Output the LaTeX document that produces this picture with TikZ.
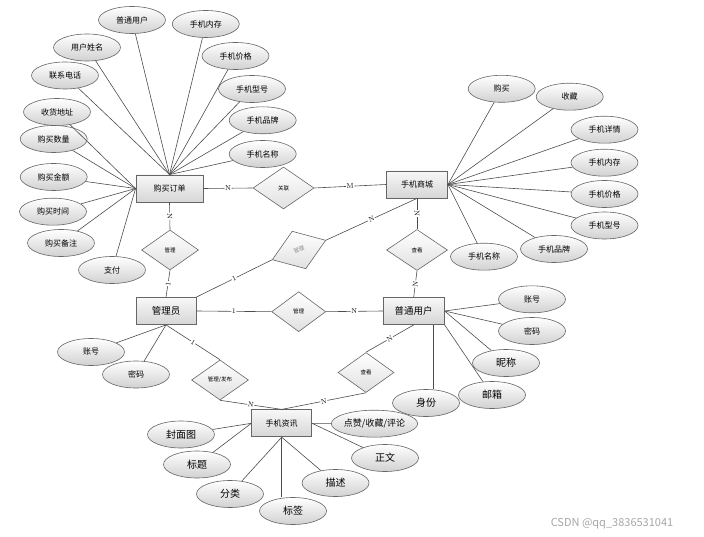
\documentclass[tikz,border=0pt]{standalone}
\usepackage{fontspec}
\usetikzlibrary{shapes.geometric}
\newfontfamily\cjk{Noto Sans CJK SC}

\begin{document}
\begin{tikzpicture}
            [x=1pt, y=-1pt,
             line/.style={draw=black!70, line width=0.6pt},
             attr/.style={ellipse, draw=black!60, line width=0.6pt, top color=white, bottom color=black!18,
                          minimum width=67pt, minimum height=27pt, inner sep=0pt, font=\cjk\fontsize{8}{9}\selectfont},
             bigattr/.style={attr, font=\cjk\fontsize{10}{11}\selectfont},
             entity/.style={rectangle, draw=black!60, line width=0.8pt, top color=black!3, bottom color=black!16,
                            minimum width=61pt, minimum height=27pt, inner sep=0pt, font=\cjk\fontsize{8}{9}\selectfont},
             bigentity/.style={entity, font=\cjk\fontsize{9.5}{11}\selectfont},
             relation/.style={diamond, draw=black!60, line width=0.6pt, top color=white, bottom color=black!12,
                              minimum width=57pt, minimum height=40pt, inner sep=0pt, font=\cjk\fontsize{5.5}{6}\selectfont},
             card/.style={midway, sloped, fill=white, inner sep=0.6pt, font=\fontsize{7}{8}\selectfont}]
            % Page frame
            \useasboundingbox (0,0) rectangle (704,537);

            % Entities
            \node[entity, minimum width=67pt] (order) at (169.5,188.5) {购买订单};
            \node[entity] (mall) at (417,184.5) {手机商城};
            \node[bigentity, minimum width=60pt] (admin) at (166,311) {管理员};
            \node[bigentity] (user) at (413.7,311) {普通用户};
            \node[entity, minimum width=60pt] (news) at (281.7,423.3) {手机资讯};

            % Relations
            \node[relation, minimum width=61pt, minimum height=42pt] (link) at (283.5,188) {关联};
            \node[relation] (orderman) at (170,250) {管理};
            \node[relation, rotate=20, text=black!45] (mallman) at (299,250) {管理};
            \node[relation, minimum width=61pt, minimum height=41pt] (view) at (417,250) {查看};
            \node[relation, minimum width=54pt] (userman) at (298.7,311.7) {管理};
            \node[relation] (pub) at (220,380) {管理/发布};
            \node[relation, minimum width=56pt] (newsview) at (366,372.5) {查看};

            % Attributes of the order
            \node[attr] (o1) at (132,20) {普通用户};
            \node[attr] (o2) at (205.8,24) {手机内存};
            \node[attr] (o3) at (87,47.5) {用户姓名};
            \node[attr] (o4) at (235.5,56) {手机价格};
            \node[attr] (o5) at (65,75.5) {联系电话};
            \node[attr] (o6) at (252,89) {手机型号};
            \node[attr] (o7) at (57,112) {收货地址};
            \node[attr] (o8) at (262.7,120.3) {手机品牌};
            \node[attr] (o9) at (53.7,139) {购买数量};
            \node[attr] (o10) at (262.7,154) {手机名称};
            \node[attr] (o11) at (53.7,177) {购买金额};
            \node[attr] (o12) at (53,211.7) {购买时间};
            \node[attr] (o13) at (61,243) {购买备注};
            \node[attr] (o14) at (112,270) {支付};

            % Attributes of the shop
            \node[attr] (m1) at (501.7,88.8) {购买};
            \node[attr] (m2) at (569.7,96.7) {收藏};
            \node[attr] (m3) at (604.5,129.7) {手机详情};
            \node[attr] (m4) at (604.5,162.7) {手机内存};
            \node[attr] (m5) at (604.5,194) {手机价格};
            \node[attr] (m6) at (604.5,225.5) {手机型号};
            \node[attr] (m7) at (554,249) {手机品牌};
            \node[attr] (m8) at (484,256.7) {手机名称};

            % Attributes of the admin
            \node[attr] (a1) at (91,352) {账号};
            \node[attr] (a2) at (136,374.5) {密码};

            % Attributes of the user
            \node[attr] (u1) at (532,299.3) {账号};
            \node[attr] (u2) at (532,331) {密码};
            \node[bigattr] (u3) at (506,363) {昵称};
            \node[bigattr] (u4) at (492,395) {邮箱};
            \node[bigattr] (u5) at (426,403) {身份};

            % Attributes of the news
            \node[bigattr] (n1) at (181,434.5) {封面图};
            \node[bigattr] (n2) at (197,464.5) {标题};
            \node[bigattr] (n3) at (230,494) {分类};
            \node[bigattr] (n4) at (293,511) {标签};
            \node[bigattr] (n5) at (335.5,483) {描述};
            \node[bigattr] (n6) at (385,458) {正文};
            \node[attr, font=\cjk\fontsize{9}{10}\selectfont] (n7) at (374.5,423.7) {点赞/收藏/评论};

            % Attribute lines
            \draw[line] (o1) -- (order.north);
            \draw[line] (o2) -- (order.north);
            \draw[line] (o3) -- (order.north);
            \draw[line] (o4) -- (order.north);
            \draw[line] (o5) -- (order.north);
            \draw[line] (o6) -- (order.north);
            \draw[line] (o8) -- (order.north);
            \draw[line] (o10) -- (order.north);
            \draw[line] (o7) -- (order.west);
            \draw[line] (o9) -- (order.west);
            \draw[line] (o11) -- (order.west);
            \draw[line] (o12) -- (order.west);
            \draw[line] (o13) -- (order.west);
            \draw[line] (o14) -- (order.west);

            \draw[line] (m1) -- (mall.east);
            \draw[line] (m2) -- (mall.east);
            \draw[line] (m3) -- (mall.east);
            \draw[line] (m4) -- (mall.east);
            \draw[line] (m5) -- (mall.east);
            \draw[line] (m6) -- (mall.east);
            \draw[line] (m7) -- (mall.east);
            \draw[line] (m8) -- (mall.east);

            \draw[line] (a1) -- (admin.south);
            \draw[line] (a2) -- (admin.south);

            \draw[line] (u1) -- (user.east);
            \draw[line] (u2) -- (user.east);
            \draw[line] (u3) -- (user.east);
            \draw[line] (u4) -- (user.south east);
            \draw[line] (user.-35) -- (user.-35 |- u5.north);

            \draw[line] (n1) -- (news.west);
            \draw[line] (n2) -- (news.west);
            \draw[line] (n3) -- (news.south);
            \draw[line] (news.south) -- (news.south |- n4.north);
            \draw[line] (n5) -- (news.south);
            \draw[line] (n6) -- (news.east);
            \draw[line] (n7) -- (news.east);

            % Relation lines
            \draw[line] (order.east) -- node[card] {N} (link.west);
            \draw[line] (link.east) -- node[card] {M} (mall.west);
            \draw[line] (order.south) -- node[card] {N} (orderman.north);
            \draw[line] (orderman.south) -- node[card] {1} (admin.north);
            \draw[line] (admin.north east) -- node[card] {1} (mallman.west);
            \draw[line] (mallman.east) -- node[card] {N} (mall.south);
            \draw[line] (admin.east) -- node[card] {1} (userman.west);
            \draw[line] (userman.east) -- node[card] {N} (user.west);
            \draw[line] (mall.south) -- node[card] {N} (view.north);
            \draw[line] (view.south) -- node[card] {N} (user.north);
            \draw[line] (admin.south) -- node[card] {1} (pub.north);
            \draw[line] (pub.south) -- node[card] {N} (news.north);
            \draw[line] (user.south) -- node[card] {N} (newsview.north);
            \draw[line] (newsview.south) -- node[card] {N} (news.north);

            % Watermark
            \node[text=black!35, font=\cjk\fontsize{11}{12}\selectfont] (mark) at (612,524) {CSDN @qq\_3836531041};
        \end{tikzpicture}
\end{document}
